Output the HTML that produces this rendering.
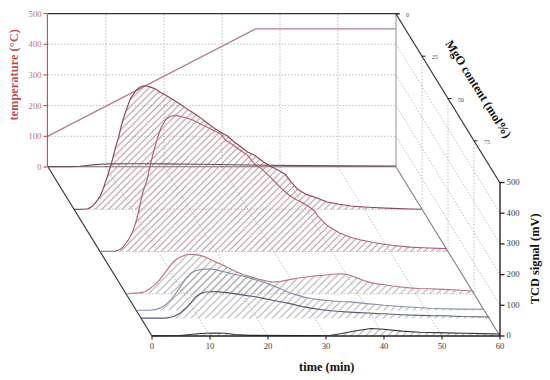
<!DOCTYPE html>
<html><head><meta charset="utf-8"><style>
html,body{margin:0;padding:0;background:#fff;width:550px;height:380px;overflow:hidden}
svg{display:block}
text{font-family:"Liberation Serif",serif}
.tl{font-size:8.6px;fill:#c07070}
.bl{font-size:8.7px;fill:#3a3a3a}
.ml{font-size:5.9px;fill:#4a4a4a}
.tt{font-size:12.45px;font-weight:bold;fill:#c05050}
.at{font-size:12.4px;font-weight:bold;fill:#111}
</style></head><body>
<svg width="550" height="380" viewBox="0 0 550 380">
<defs>
<pattern id="h1" patternUnits="userSpaceOnUse" x="0.7" y="0" width="6.75" height="6.75"><path d="M-6.75,6.75 L6.75,-6.75 M0,6.75 L6.75,0 M0,13.5 L13.5,0" stroke="#b48e98" stroke-width="1.0"/></pattern>
<pattern id="h3" patternUnits="userSpaceOnUse" x="5.85" y="0" width="7.4" height="7.4"><path d="M-7.4,7.4 L7.4,-7.4 M0,7.4 L7.4,0 M0,14.8 L14.8,0" stroke="#ada8aa" stroke-width="1.0"/></pattern>
<pattern id="h4" patternUnits="userSpaceOnUse" x="5.85" y="0" width="7.4" height="7.4"><path d="M-7.4,7.4 L7.4,-7.4 M0,7.4 L7.4,0 M0,14.8 L14.8,0" stroke="#ababab" stroke-width="1.0"/></pattern>
</defs>
<rect width="550" height="380" fill="#fff"/>
<line x1="48" y1="136.3" x2="396" y2="136.3" stroke="#b4b4b4" stroke-width="0.8" stroke-dasharray="1.6 1.6"/>
<line x1="48" y1="105.6" x2="396" y2="105.6" stroke="#b4b4b4" stroke-width="0.8" stroke-dasharray="1.6 1.6"/>
<line x1="48" y1="74.9" x2="396" y2="74.9" stroke="#b4b4b4" stroke-width="0.8" stroke-dasharray="1.6 1.6"/>
<line x1="48" y1="44.2" x2="396" y2="44.2" stroke="#b4b4b4" stroke-width="0.8" stroke-dasharray="1.6 1.6"/>
<line x1="106" y1="14" x2="106" y2="167" stroke="#b4b4b4" stroke-width="0.8" stroke-dasharray="1.6 1.6"/>
<line x1="164" y1="14" x2="164" y2="167" stroke="#b4b4b4" stroke-width="0.8" stroke-dasharray="1.6 1.6"/>
<line x1="222" y1="14" x2="222" y2="167" stroke="#b4b4b4" stroke-width="0.8" stroke-dasharray="1.6 1.6"/>
<line x1="280" y1="14" x2="280" y2="167" stroke="#b4b4b4" stroke-width="0.8" stroke-dasharray="1.6 1.6"/>
<line x1="338" y1="14" x2="338" y2="167" stroke="#b4b4b4" stroke-width="0.8" stroke-dasharray="1.6 1.6"/>
<line x1="106" y1="167" x2="210" y2="336" stroke="#b4b4b4" stroke-width="0.8" stroke-dasharray="1.6 1.6"/>
<line x1="164" y1="167" x2="268" y2="336" stroke="#b4b4b4" stroke-width="0.8" stroke-dasharray="1.6 1.6"/>
<line x1="222" y1="167" x2="326" y2="336" stroke="#b4b4b4" stroke-width="0.8" stroke-dasharray="1.6 1.6"/>
<line x1="280" y1="167" x2="384" y2="336" stroke="#b4b4b4" stroke-width="0.8" stroke-dasharray="1.6 1.6"/>
<line x1="338" y1="167" x2="442" y2="336" stroke="#b4b4b4" stroke-width="0.8" stroke-dasharray="1.6 1.6"/>
<line x1="74" y1="209.2" x2="422" y2="209.2" stroke="#b4b4b4" stroke-width="0.8" stroke-dasharray="1.6 1.6"/>
<line x1="100" y1="251.5" x2="448" y2="251.5" stroke="#b4b4b4" stroke-width="0.8" stroke-dasharray="1.6 1.6"/>
<line x1="126" y1="293.8" x2="474" y2="293.8" stroke="#b4b4b4" stroke-width="0.8" stroke-dasharray="1.6 1.6"/>
<line x1="422" y1="56.2" x2="422" y2="209.2" stroke="#b4b4b4" stroke-width="0.8" stroke-dasharray="1.6 1.6"/>
<line x1="448" y1="98.5" x2="448" y2="251.5" stroke="#b4b4b4" stroke-width="0.8" stroke-dasharray="1.6 1.6"/>
<line x1="474" y1="140.8" x2="474" y2="293.8" stroke="#b4b4b4" stroke-width="0.8" stroke-dasharray="1.6 1.6"/>
<line x1="396" y1="136.3" x2="500" y2="305.3" stroke="#b4b4b4" stroke-width="0.8" stroke-dasharray="1.6 1.6"/>
<line x1="396" y1="105.6" x2="500" y2="274.6" stroke="#b4b4b4" stroke-width="0.8" stroke-dasharray="1.6 1.6"/>
<line x1="396" y1="74.9" x2="500" y2="243.9" stroke="#b4b4b4" stroke-width="0.8" stroke-dasharray="1.6 1.6"/>
<line x1="396" y1="44.2" x2="500" y2="213.2" stroke="#b4b4b4" stroke-width="0.8" stroke-dasharray="1.6 1.6"/>
<line x1="396" y1="14" x2="396" y2="167" stroke="#a4a4a4" stroke-width="1.2"/>
<line x1="396" y1="167" x2="500" y2="336" stroke="#808080" stroke-width="1.1"/>
<line x1="48" y1="166.8" x2="396" y2="166.8" stroke="#76606a" stroke-width="1.1"/>
<polyline points="47.4,136.3 255.6,28.9 396,28.9" fill="none" stroke="#b47e86" stroke-width="1.3"/>
<path d="M74,209.4 L84,209.3 L88,208.8 L91.7,206.6 L95,203.3 L97.5,200 L100,196 L102,191.9 L104,186.5 L105.5,181.7 L107,177.5 L108.4,173 L110.6,165.8 L112.3,160 L114,153.5 L115.5,147.5 L118.5,137.5 L121.5,125 L124.5,115 L127.5,106.5 L130.5,98.3 L135.7,90.8 L139.7,87.3 L142.8,86 L145.8,85.7 L150.9,87.1 L157,89.8 L160,92.3 L163.8,94 L169.9,97.8 L179.7,103.7 L189.6,110.6 L195,114 L201.6,118.6 L208.2,123.8 L214.7,128.4 L221.3,132.4 L227.9,136.3 L234.5,142.2 L241,146.8 L247.6,152.1 L255,155.5 L263.5,162 L272.1,167.1 L280.6,171.4 L285.8,174.8 L290.9,181.6 L297.7,189.3 L306.3,194.4 L315,197.2 L327.3,202 L339.2,204.3 L351,206 L360,206.7 L373.4,207.5 L391.8,208.4 L410.2,209 L421.5,209.2 L421.5,209.6 L74,209.6Z M101,251.2 L115,251.1 L120.2,249.5 L123.5,246.5 L128.6,239.7 L132.9,231.1 L136.3,220.8 L138.9,210.5 L140.9,200.3 L143.2,191 L146.9,180.8 L150.4,164.5 L154,150 L157.5,138.2 L161.1,127.5 L165.8,119.5 L170.5,116.3 L176,115.4 L183.7,117.3 L191.6,119.5 L195,121.2 L201.6,124.5 L208.2,127.8 L214.7,131 L221.3,134.3 L225.3,140 L229.2,142.2 L234.5,146.2 L241,150.8 L247.6,155.4 L255,164.5 L261.8,168.8 L268.7,175.6 L275.5,182.5 L282.4,189.3 L289.2,195.3 L296,199.6 L302.9,203 L309.7,207.3 L315,211.5 L317.9,216.2 L327.3,225.6 L339.2,232.7 L351,237.5 L360,239.8 L373.4,242.5 L391.8,245.2 L410.2,247.1 L428.7,248 L447,248.6 L447,251.4 L101,251.4Z" fill="url(#h1)" fill-rule="nonzero" stroke="none"/>
<path d="M127.5,293.5 L140,292.9 L144.8,291.7 L149.7,288.7 L154.5,285.1 L159.3,280.2 L163,275.4 L166.6,270.6 L170.2,265.7 L173.9,261.5 L177.5,258.5 L181.1,256.7 L186,254.8 L190.8,254.2 L195.6,254.6 L200,255.4 L204.3,256.6 L207.3,258 L214.5,261.6 L221.8,264.5 L229.1,268.2 L236.4,271.8 L243.6,274.7 L250.9,276.9 L258.2,279.1 L265.5,280.8 L272.7,282 L280,281.6 L289.5,279.6 L296.8,278.2 L304.1,277.2 L311.4,276.3 L318.6,275.6 L325.9,275 L333.2,274.3 L340.5,273.8 L346.3,274.3 L352.1,276 L356.8,277.9 L363.7,280.5 L370.5,282.6 L377.4,283.9 L384.2,284.8 L392.7,286 L401.3,287 L409.8,287.9 L418.4,288.5 L430,288.7 L443.4,289.4 L461.9,290.3 L474,291.2 L474,293.8 L127.5,293.8Z" fill="url(#h3)" fill-rule="nonzero" stroke="none"/>
<path d="M137.4,310.2 L150,310.2 L156.3,309.4 L162.6,307 L167.4,303.1 L172.1,298.3 L176.9,292 L181.6,284.9 L186.3,277.8 L191.1,273.1 L195.8,270.7 L202.1,269.1 L210,269.1 L214.5,269.6 L221.8,271.1 L229.1,273 L236.4,274.7 L243.6,276.2 L250.9,278.4 L258.2,280.5 L265.5,282.7 L272.7,285.6 L280,288.5 L289.5,292.7 L296.8,294.9 L304.1,297.1 L311.4,298.5 L318.6,299.6 L325.9,300.4 L333.2,301 L340.5,301.5 L350,301.9 L367.1,303.6 L384.2,305.3 L401.3,306.5 L418.4,307.5 L430,308.2 L443.4,308.7 L461.9,309.1 L483.5,309.3 L483.5,310.4 L137.4,310.4Z M141.3,318.1 L165.8,318.1 L173.7,316.5 L180,313.3 L186.3,307.8 L191.1,302.3 L195.8,296.8 L200.6,293.6 L205.3,292 L210,291.7 L211.6,291.5 L218.9,291.9 L229.1,292.9 L243.6,295.1 L255.2,296.8 L264.5,298.6 L273.7,300.5 L282.9,302.3 L290,303.6 L303.4,306.9 L312.6,308.4 L321.8,309.7 L331,310.8 L340.2,311.5 L349.5,312.1 L358.7,312.6 L367.9,313 L377.1,313.6 L384.2,313.8 L401.3,314.7 L430,315.6 L443.4,315.7 L461.9,316.5 L489.3,317 L489.3,318.6 L141.3,318.6Z M152,335.8 L180,335.5 L195,334 L205,333.2 L215,333 L225,333.3 L235,334.5 L250,335.4 L300,335.5 L330.9,335.3 L341.8,333.5 L356.4,330.7 L370.9,328.5 L383.6,329.3 L401.8,331.1 L420,332.2 L446.4,332.9 L464.5,333.3 L482.7,333.6 L500,334 L500,336 L152,336Z" fill="url(#h4)" fill-rule="nonzero" stroke="none"/>
<polyline points="48,166.6 70,166.6 80,166.2 95,164.6 110.5,163.8 132,163.7 165,163.9 200,164.3 250,165 300,165.6 350,165.9 396,166" fill="none" stroke="#645054" stroke-width="1.15" stroke-linejoin="round"/>
<polyline points="74,209.4 84,209.3 88,208.8 91.7,206.6 95,203.3 97.5,200 100,196 102,191.9 104,186.5 105.5,181.7 107,177.5 108.4,173 110.6,165.8 112.3,160 114,153.5 115.5,147.5 118.5,137.5 121.5,125 124.5,115 127.5,106.5 130.5,98.3 135.7,90.8 139.7,87.3 142.8,86 145.8,85.7 150.9,87.1 157,89.8 160,92.3 163.8,94 169.9,97.8 179.7,103.7 189.6,110.6 195,114 201.6,118.6 208.2,123.8 214.7,128.4 221.3,132.4 227.9,136.3 234.5,142.2 241,146.8 247.6,152.1 255,155.5 263.5,162 272.1,167.1 280.6,171.4 285.8,174.8 290.9,181.6 297.7,189.3 306.3,194.4 315,197.2 327.3,202 339.2,204.3 351,206 360,206.7 373.4,207.5 391.8,208.4 410.2,209 421.5,209.2" fill="none" stroke="#8e4656" stroke-width="1.15" stroke-linejoin="round"/>
<polyline points="101,251.2 115,251.1 120.2,249.5 123.5,246.5 128.6,239.7 132.9,231.1 136.3,220.8 138.9,210.5 140.9,200.3 143.2,191 146.9,180.8 150.4,164.5 154,150 157.5,138.2 161.1,127.5 165.8,119.5 170.5,116.3 176,115.4 183.7,117.3 191.6,119.5 195,121.2 201.6,124.5 208.2,127.8 214.7,131 221.3,134.3 225.3,140 229.2,142.2 234.5,146.2 241,150.8 247.6,155.4 255,164.5 261.8,168.8 268.7,175.6 275.5,182.5 282.4,189.3 289.2,195.3 296,199.6 302.9,203 309.7,207.3 315,211.5 317.9,216.2 327.3,225.6 339.2,232.7 351,237.5 360,239.8 373.4,242.5 391.8,245.2 410.2,247.1 428.7,248 447,248.6" fill="none" stroke="#b06272" stroke-width="1.15" stroke-linejoin="round"/>
<polyline points="127.5,293.5 140,292.9 144.8,291.7 149.7,288.7 154.5,285.1 159.3,280.2 163,275.4 166.6,270.6 170.2,265.7 173.9,261.5 177.5,258.5 181.1,256.7 186,254.8 190.8,254.2 195.6,254.6 200,255.4 204.3,256.6 207.3,258 214.5,261.6 221.8,264.5 229.1,268.2 236.4,271.8 243.6,274.7 250.9,276.9 258.2,279.1 265.5,280.8 272.7,282 280,281.6 289.5,279.6 296.8,278.2 304.1,277.2 311.4,276.3 318.6,275.6 325.9,275 333.2,274.3 340.5,273.8 346.3,274.3 352.1,276 356.8,277.9 363.7,280.5 370.5,282.6 377.4,283.9 384.2,284.8 392.7,286 401.3,287 409.8,287.9 418.4,288.5 430,288.7 443.4,289.4 461.9,290.3 474,291.2" fill="none" stroke="#b87482" stroke-width="1.15" stroke-linejoin="round"/>
<polyline points="137.4,310.2 150,310.2 156.3,309.4 162.6,307 167.4,303.1 172.1,298.3 176.9,292 181.6,284.9 186.3,277.8 191.1,273.1 195.8,270.7 202.1,269.1 210,269.1 214.5,269.6 221.8,271.1 229.1,273 236.4,274.7 243.6,276.2 250.9,278.4 258.2,280.5 265.5,282.7 272.7,285.6 280,288.5 289.5,292.7 296.8,294.9 304.1,297.1 311.4,298.5 318.6,299.6 325.9,300.4 333.2,301 340.5,301.5 350,301.9 367.1,303.6 384.2,305.3 401.3,306.5 418.4,307.5 430,308.2 443.4,308.7 461.9,309.1 483.5,309.3" fill="none" stroke="#8890ac" stroke-width="1.15" stroke-linejoin="round"/>
<polyline points="141.3,318.1 165.8,318.1 173.7,316.5 180,313.3 186.3,307.8 191.1,302.3 195.8,296.8 200.6,293.6 205.3,292 210,291.7 211.6,291.5 218.9,291.9 229.1,292.9 243.6,295.1 255.2,296.8 264.5,298.6 273.7,300.5 282.9,302.3 290,303.6 303.4,306.9 312.6,308.4 321.8,309.7 331,310.8 340.2,311.5 349.5,312.1 358.7,312.6 367.9,313 377.1,313.6 384.2,313.8 401.3,314.7 430,315.6 443.4,315.7 461.9,316.5 489.3,317" fill="none" stroke="#555d72" stroke-width="1.15" stroke-linejoin="round"/>
<polyline points="152,335.8 180,335.5 195,334 205,333.2 215,333 225,333.3 235,334.5 250,335.4 300,335.5 330.9,335.3 341.8,333.5 356.4,330.7 370.9,328.5 383.6,329.3 401.8,331.1 420,332.2 446.4,332.9 464.5,333.3 482.7,333.6 500,334" fill="none" stroke="#333333" stroke-width="1.15" stroke-linejoin="round"/>
<line x1="48" y1="13.6" x2="399.5" y2="13.6" stroke="#333" stroke-width="1.4"/>
<line x1="48" y1="167" x2="152" y2="336" stroke="#333" stroke-width="1.15"/>
<line x1="396" y1="14" x2="500" y2="183" stroke="#333" stroke-width="1.2"/>
<line x1="152" y1="336" x2="500" y2="336" stroke="#222" stroke-width="1.4"/>
<line x1="500" y1="183" x2="500" y2="336" stroke="#222" stroke-width="1.4"/>
<line x1="47.4" y1="13.6" x2="47.4" y2="167" stroke="#b85050" stroke-width="1.1"/>
<line x1="43.4" y1="167" x2="47.4" y2="167" stroke="#b85050" stroke-width="1.1"/>
<text x="41.5" y="170" text-anchor="end" class="tl">0</text>
<line x1="43.4" y1="136.3" x2="47.4" y2="136.3" stroke="#b85050" stroke-width="1.1"/>
<text x="41.5" y="139.3" text-anchor="end" class="tl">100</text>
<line x1="43.4" y1="105.6" x2="47.4" y2="105.6" stroke="#b85050" stroke-width="1.1"/>
<text x="41.5" y="108.6" text-anchor="end" class="tl">200</text>
<line x1="43.4" y1="74.9" x2="47.4" y2="74.9" stroke="#b85050" stroke-width="1.1"/>
<text x="41.5" y="77.9" text-anchor="end" class="tl">300</text>
<line x1="43.4" y1="44.2" x2="47.4" y2="44.2" stroke="#b85050" stroke-width="1.1"/>
<text x="41.5" y="47.2" text-anchor="end" class="tl">400</text>
<line x1="43.4" y1="13.5" x2="47.4" y2="13.5" stroke="#b85050" stroke-width="1.1"/>
<text x="41.5" y="16.5" text-anchor="end" class="tl">500</text>
<line x1="152" y1="336" x2="152" y2="339.6" stroke="#222" stroke-width="1.1"/>
<text x="152" y="348.5" text-anchor="middle" class="bl">0</text>
<line x1="210" y1="336" x2="210" y2="339.6" stroke="#222" stroke-width="1.1"/>
<text x="210" y="348.5" text-anchor="middle" class="bl">10</text>
<line x1="268" y1="336" x2="268" y2="339.6" stroke="#222" stroke-width="1.1"/>
<text x="268" y="348.5" text-anchor="middle" class="bl">20</text>
<line x1="326" y1="336" x2="326" y2="339.6" stroke="#222" stroke-width="1.1"/>
<text x="326" y="348.5" text-anchor="middle" class="bl">30</text>
<line x1="384" y1="336" x2="384" y2="339.6" stroke="#222" stroke-width="1.1"/>
<text x="384" y="348.5" text-anchor="middle" class="bl">40</text>
<line x1="442" y1="336" x2="442" y2="339.6" stroke="#222" stroke-width="1.1"/>
<text x="442" y="348.5" text-anchor="middle" class="bl">50</text>
<line x1="500" y1="336" x2="500" y2="339.6" stroke="#222" stroke-width="1.1"/>
<text x="500" y="348.5" text-anchor="middle" class="bl">60</text>
<line x1="500" y1="336" x2="504.5" y2="336" stroke="#222" stroke-width="1.3"/>
<text x="506.6" y="338.3" class="bl">0</text>
<line x1="500" y1="305.3" x2="504.5" y2="305.3" stroke="#222" stroke-width="1.3"/>
<text x="506.6" y="307.6" class="bl">100</text>
<line x1="500" y1="274.6" x2="504.5" y2="274.6" stroke="#222" stroke-width="1.3"/>
<text x="506.6" y="276.9" class="bl">200</text>
<line x1="500" y1="243.9" x2="504.5" y2="243.9" stroke="#222" stroke-width="1.3"/>
<text x="506.6" y="246.2" class="bl">300</text>
<line x1="500" y1="213.2" x2="504.5" y2="213.2" stroke="#222" stroke-width="1.3"/>
<text x="506.6" y="215.5" class="bl">400</text>
<line x1="500" y1="182.5" x2="504.5" y2="182.5" stroke="#222" stroke-width="1.3"/>
<text x="506.6" y="184.8" class="bl">500</text>
<line x1="396" y1="14" x2="399.5" y2="14" stroke="#222" stroke-width="1"/>
<text x="406" y="17" class="ml">0</text>
<line x1="422" y1="56.2" x2="425.5" y2="56.2" stroke="#222" stroke-width="1"/>
<text x="432" y="59.2" class="ml">25</text>
<line x1="448" y1="98.5" x2="451.5" y2="98.5" stroke="#222" stroke-width="1"/>
<text x="458" y="101.5" class="ml">50</text>
<line x1="474" y1="140.8" x2="477.5" y2="140.8" stroke="#222" stroke-width="1"/>
<text x="484" y="143.8" class="ml">75</text>
<text transform="translate(17.9,74.9) rotate(-90)" text-anchor="middle" class="tt">temperature (°C)</text>
<text transform="translate(538.7,258.8) rotate(-90)" text-anchor="middle" class="at">TCD signal (mV)</text>
<text x="326.8" y="371.4" text-anchor="middle" class="at">time (min)</text>
<text transform="translate(445,43.4) rotate(57.9)" class="at" style="font-size:12.3px">MgO content (mol%)</text>
</svg>
</body></html>
